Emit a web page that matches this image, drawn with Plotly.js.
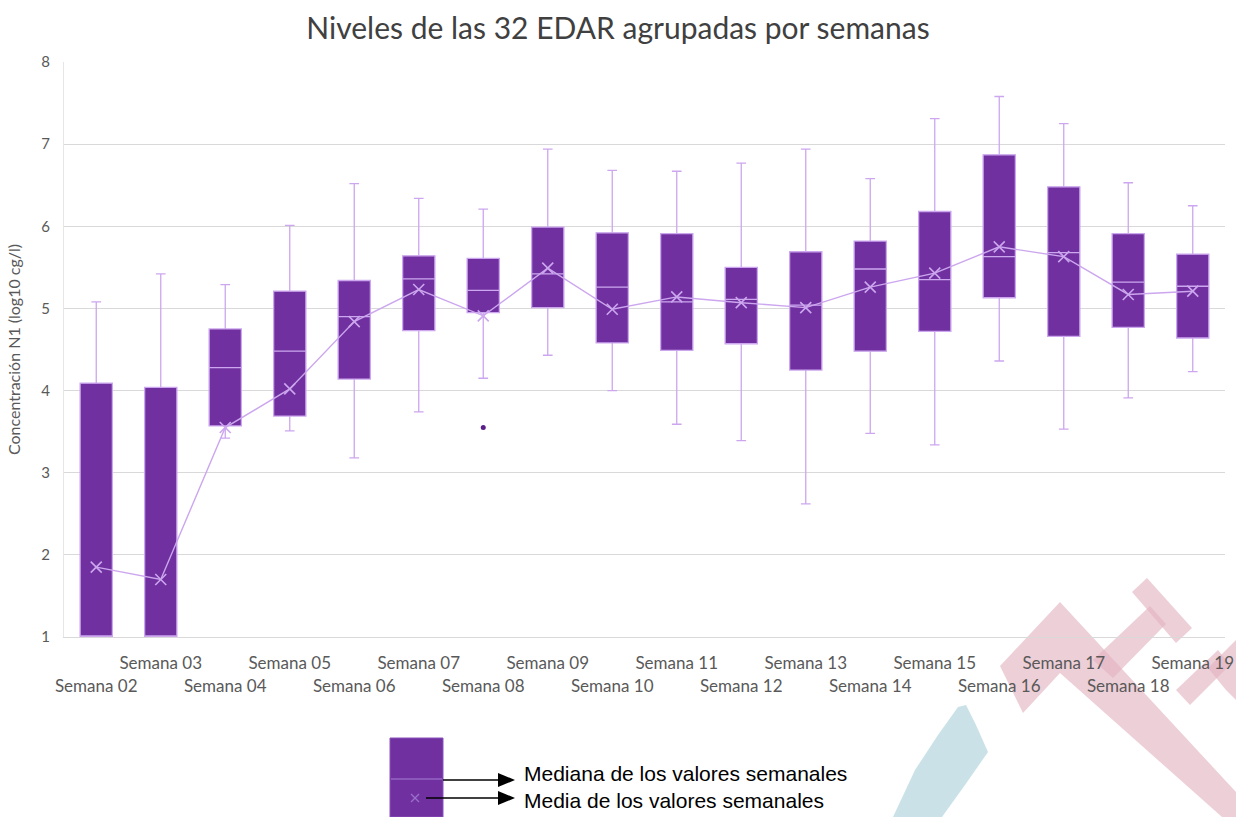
<!DOCTYPE html>
<html>
<head>
<meta charset="utf-8">
<script src="https://cdn.plot.ly/plotly-3.0.1.min.js"></script>
<style>
  html, body { margin: 0; padding: 0; background: #ffffff; }
  #chart { width: 1236px; height: 817px; }
</style>
</head>
<body>
<div id="chart"></div>
<script>
// ---- Data ----
const weeks = ['Semana 02','Semana 03','Semana 04','Semana 05','Semana 06','Semana 07','Semana 08','Semana 09','Semana 10',
               'Semana 11','Semana 12','Semana 13','Semana 14','Semana 15','Semana 16','Semana 17','Semana 18','Semana 19'];
const upperWhisker = [5.08, 5.42, 5.29, 6.01, 6.52, 6.34, 6.21, 6.94, 6.68, 6.67, 6.77, 6.94, 6.58, 7.31, 7.58, 7.25, 6.53, 6.25];
const q3Values     = [4.09, 4.04, 4.75, 5.21, 5.34, 5.64, 5.61, 5.99, 5.92, 5.91, 5.50, 5.69, 5.82, 6.18, 6.87, 6.48, 5.91, 5.66];
const medianValues = [1.00, 1.00, 4.28, 4.48, 4.90, 5.36, 5.22, 5.42, 5.26, 5.08, 5.11, 5.04, 5.48, 5.35, 5.63, 5.68, 5.32, 5.27];
const q1Values     = [1.00, 1.00, 3.57, 3.69, 4.14, 4.73, 4.95, 5.01, 4.58, 4.49, 4.57, 4.25, 4.48, 4.72, 5.13, 4.66, 4.77, 4.64];
const lowerWhisker = [1.00, 1.00, 3.42, 3.51, 3.18, 3.74, 4.15, 4.43, 4.00, 3.59, 3.39, 2.62, 3.48, 3.34, 4.36, 3.53, 3.91, 4.23];
const meanValues   = [1.85, 1.70, 3.55, 4.02, 4.84, 5.23, 4.91, 5.49, 4.99, 5.14, 5.07, 5.01, 5.26, 5.43, 5.75, 5.63, 5.17, 5.21];
const outlierWeeks  = ['Semana 08'];
const outlierValues = [3.55];
// two-row tick labels: odd positions on the first row, even on the second
const tickLabels = weeks.map((w, i) => (i % 2 === 0 ? ' <br>' + w : w));

const titleText = 'Niveles de las 32 EDAR agrupadas por semanas';
const yTitleText = 'Concentración N1 (log10 cg/l)';
const noteMedian = 'Mediana de los valores semanales';
const noteMean = 'Media de los valores semanales';

// ---- Styling ----
const PURPLE = '#7030A0';
const LILAC = 'rgb(204,166,238)';
const W = 1236, H = 817;
const M = { l: 64, r: 11, t: 62, b: 180 };
const PW = W - M.l - M.r, PH = H - M.t - M.b;
// pixel -> paper helpers for decoration outside the data area
const px = x => (x - M.l) / PW;
const py = y => (H - M.b - y) / PH;
const poly = pts => 'M' + pts.map(p => px(p[0]).toFixed(5) + ',' + py(p[1]).toFixed(5)).join(' L') + ' Z';

const traces = [
  {
    type: 'box',
    x: weeks,
    q1: q1Values,
    median: medianValues,
    q3: q3Values,
    lowerfence: lowerWhisker,
    upperfence: upperWhisker,
    boxpoints: false,
    width: 0.5,
    whiskerwidth: 0.3,
    fillcolor: PURPLE,
    line: { color: LILAC, width: 1.3 },
    showlegend: false,
    hoverinfo: 'skip'
  },
  {
    type: 'scatter',
    mode: 'lines+markers',
    x: weeks,
    y: meanValues,
    line: { color: LILAC, width: 1.4 },
    marker: { symbol: 'x-thin-open', size: 11, color: LILAC, line: { color: LILAC, width: 1.6 } },
    showlegend: false,
    hoverinfo: 'skip'
  },
  {
    type: 'scatter',
    mode: 'markers',
    x: outlierWeeks,
    y: outlierValues,
    marker: { symbol: 'circle', size: 5, color: '#5a1f8a' },
    showlegend: false,
    hoverinfo: 'skip'
  }
];

const PINK = 'rgba(226,178,190,0.62)';
const BLUE = 'rgba(170,208,216,0.62)';
const shapes = [
  // watermark (decoration)
  { type: 'path', xref: 'paper', yref: 'paper', layer: 'below', line: { width: 0 }, fillcolor: PINK,
    path: poly([[1000,666],[1060,602],[1236,792],[1236,817],[1222,817],[1060,673],[1023,713]]) },
  { type: 'path', xref: 'paper', yref: 'paper', layer: 'below', line: { width: 0 }, fillcolor: PINK,
    path: poly([[1093,660],[1150,606],[1166,624],[1113,678]]) },
  { type: 'path', xref: 'paper', yref: 'paper', layer: 'below', line: { width: 0 }, fillcolor: PINK,
    path: poly([[1132,592],[1147,578],[1192,628],[1176,643]]) },
  { type: 'path', xref: 'paper', yref: 'paper', layer: 'below', line: { width: 0 }, fillcolor: PINK,
    path: poly([[1176,690],[1218,650],[1230,665],[1190,705]]) },
  { type: 'path', xref: 'paper', yref: 'paper', layer: 'below', line: { width: 0 }, fillcolor: PINK,
    path: poly([[1208,668],[1236,640],[1236,700],[1226,690]]) },
  { type: 'path', xref: 'paper', yref: 'paper', layer: 'below', line: { width: 0 }, fillcolor: BLUE,
    path: poly([[958,707],[966,705],[976,725],[988,752],[965,785],[942,817],[893,817],[915,770],[938,735]]) },
  // explanatory box below the chart
  { type: 'rect', xref: 'paper', yref: 'paper', x0: px(390), x1: px(443), y0: py(738), y1: py(817),
    fillcolor: PURPLE, line: { color: '#8a52bd', width: 1 } },
  { type: 'line', xref: 'paper', yref: 'paper', x0: px(391), x1: px(442), y0: py(779), y1: py(779),
    line: { color: '#a87fd6', width: 1.2 } },
  { type: 'line', xref: 'paper', yref: 'paper', x0: px(411), x1: px(419), y0: py(794), y1: py(802),
    line: { color: '#9b6fcc', width: 1.2 } },
  { type: 'line', xref: 'paper', yref: 'paper', x0: px(411), x1: px(419), y0: py(802), y1: py(794),
    line: { color: '#9b6fcc', width: 1.2 } },
  // arrows
  { type: 'line', xref: 'paper', yref: 'paper', x0: px(443), x1: px(500), y0: py(780), y1: py(780),
    line: { color: '#000000', width: 1.5 } },
  { type: 'path', xref: 'paper', yref: 'paper', line: { width: 0 }, fillcolor: '#000000',
    path: poly([[498,773],[515,780],[498,787]]) },
  { type: 'line', xref: 'paper', yref: 'paper', x0: px(426), x1: px(500), y0: py(798), y1: py(798),
    line: { color: '#000000', width: 1.5 } },
  { type: 'path', xref: 'paper', yref: 'paper', line: { width: 0 }, fillcolor: '#000000',
    path: poly([[498,791],[515,798],[498,805]]) }
];

const annotations = [
  { xref: 'paper', yref: 'paper', x: px(522), y: py(773), xanchor: 'left', yanchor: 'middle', showarrow: false,
    text: noteMedian, font: { family: 'Liberation Sans, Arial, sans-serif', size: 21, color: '#000000' } },
  { xref: 'paper', yref: 'paper', x: px(522), y: py(800), xanchor: 'left', yanchor: 'middle', showarrow: false,
    text: noteMean, font: { family: 'Liberation Sans, Arial, sans-serif', size: 21, color: '#000000' } }
];

const layout = {
  width: W, height: H,
  margin: M,
  paper_bgcolor: '#ffffff',
  plot_bgcolor: 'rgba(0,0,0,0)',
  font: { family: 'Lato, "Open Sans", sans-serif', color: '#595959' },
  title: { text: titleText, x: 0.5, xref: 'container', xanchor: 'center', y: 0.965, yanchor: 'middle',
           font: { family: 'Lato, "Open Sans", sans-serif', size: 30, color: '#404040' } },
  xaxis: {
    type: 'category',
    tickmode: 'array', tickvals: weeks, ticktext: tickLabels,
    tickangle: 0,
    tickfont: { size: 17, color: '#595959' },
    ticklabelstandoff: 11,
    showgrid: false, zeroline: false,
    showline: true, linecolor: '#d9d9d9', linewidth: 1,
    ticks: '', range: [-0.5, 17.5]
  },
  yaxis: {
    range: [1, 8], dtick: 1, tick0: 1,
    showgrid: true, gridcolor: '#d9d9d9', gridwidth: 1,
    zeroline: false,
    showline: true, linecolor: '#e6e6e6', linewidth: 1,
    ticks: '', ticklen: 0,
    ticklabelstandoff: 10,
    tickfont: { size: 15, color: '#595959' },
    title: { text: yTitleText, font: { size: 16, color: '#595959' }, standoff: 16 }
  },
  shapes: shapes,
  annotations: annotations
};

Plotly.newPlot('chart', traces, layout, { displayModeBar: false, staticPlot: true });
</script>
</body>
</html>
